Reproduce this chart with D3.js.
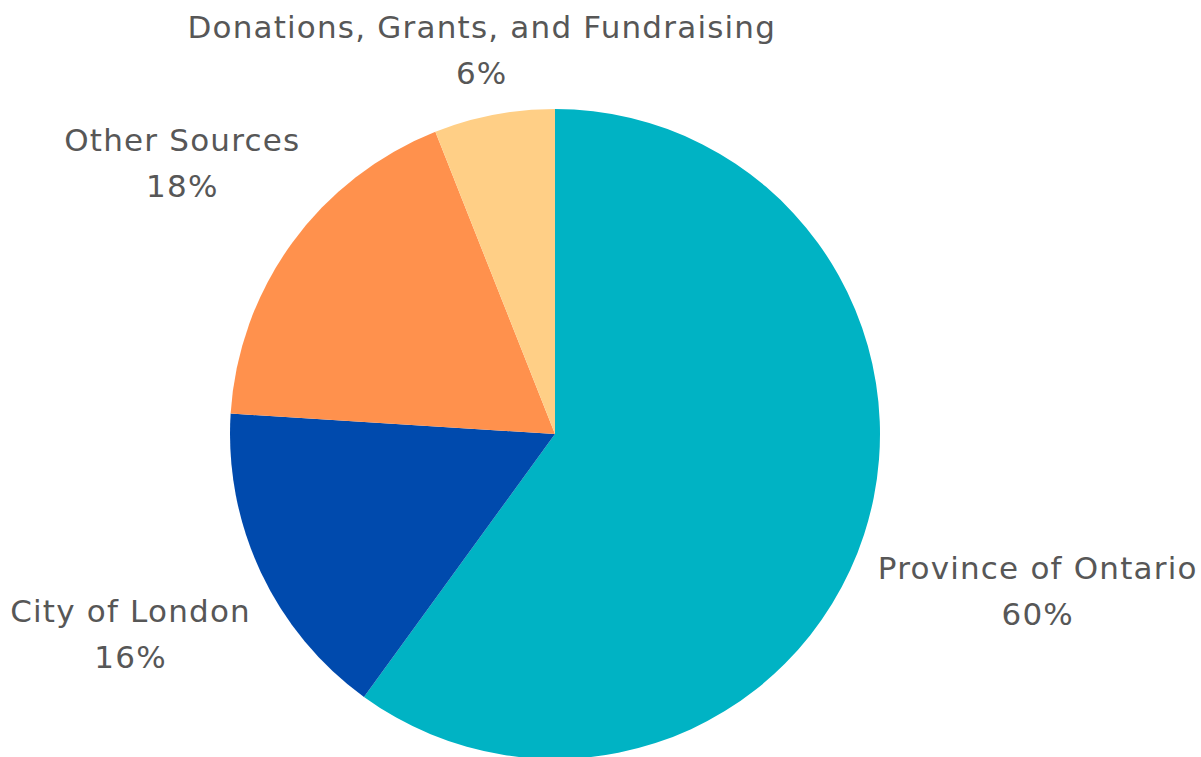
<!DOCTYPE html>
<meta charset="UTF-8">
<script src="https://d3js.org/d3.v7.min.js"></script>
<style>
  body { margin: 0; background: #fff; }
</style>
<div id="chart"></div>
<script>
// data
var labels = ["Province of Ontario", "City of London", "Other Sources", "Donations, Grants, and Fundraising"]
var values = [60, 16, 18, 6]
var colors = ["#00B3C4", "#004AAD", "#FF914D", "#FFCF86"]

var width = 1201
var height = 757
var cx = 555, cy = 434, radius = 325

var svg = d3.select("#chart").append("svg")
    .attr("width", width)
    .attr("height", height)

var data = labels.map(function(d, i){ return {label: d, value: values[i]} })

var pie = d3.pie().sort(null).value(function(d){ return d.value })
var arc = d3.arc().innerRadius(0).outerRadius(radius)

var g = svg.append("g").attr("transform", "translate(" + cx + "," + cy + ")")

g.selectAll("path")
    .data(pie(data))
    .enter()
    .append("path")
        .attr("d", arc)
        .style("fill", function(d, i){ return colors[i] })

// labels: two lines, block pushed out along mid angle until it clears the pie
var lineGap = 46
var labelGap = 18
var lab = g.selectAll("g.lab")
    .data(pie(data))
    .enter()
    .append("g")
        .attr("class", "lab")

lab.append("text")
    .attr("text-anchor", "middle")
    .style("font-family", "DejaVu Sans")
    .style("font-size", "31px")
    .style("letter-spacing", "1.2px")
    .style("fill", "#575757")
    .each(function(d){
        var t = d3.select(this)
        t.append("tspan").attr("x", 0).attr("y", 0).text(d.data.label)
        t.append("tspan").attr("x", 0).attr("y", lineGap).text(d.data.value + "%")
    })

lab.each(function(d){
    var b = this.getBBox()
    var a = (d.startAngle + d.endAngle) / 2
    var ux = Math.sin(a), uy = -Math.cos(a)
    var w = b.width, h = b.height
    // distance from origin to box centred at (px, py)
    function dist(t){
        var px = t * ux, py = t * uy
        var dx = Math.max(Math.abs(px) - w / 2, 0)
        var dy = Math.max(Math.abs(py) - h / 2, 0)
        return Math.sqrt(dx * dx + dy * dy)
    }
    var lo = 0, hi = 2000
    for (var k = 0; k < 60; k++) {
        var mid = (lo + hi) / 2
        if (dist(mid) < radius + labelGap) lo = mid; else hi = mid
    }
    var px = hi * ux, py = hi * uy
    // shift so bbox centre lands on (px, py)
    var ox = px - (b.x + w / 2), oy = py - (b.y + h / 2)
    d3.select(this).attr("transform", "translate(" + ox + "," + oy + ")")
})
</script>
